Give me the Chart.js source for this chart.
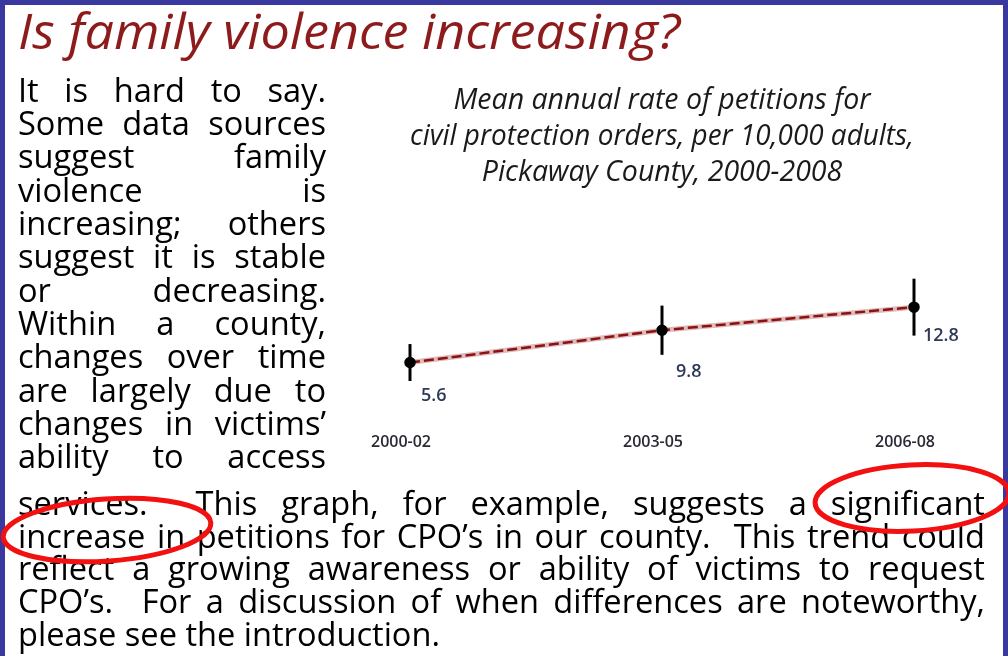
<!DOCTYPE html>
<html>
<head>
<meta charset="utf-8">
<script src="https://cdn.jsdelivr.net/npm/chart.js@4.4.1/dist/chart.umd.min.js"></script>
<style>
  html, body { margin: 0; padding: 0; }
  body { width: 1008px; height: 656px; overflow: hidden; background: #38389f; position: relative; font-family: "Open Sans", sans-serif; }
  #panel { position: absolute; left: 5px; top: 5px; width: 998px; height: 700px; background: #fff; }
  #heading { position: absolute; left: 18px; top: 6px; white-space: nowrap; }
  #heading span { display: inline-block; font-style: italic; font-size: 49px; line-height: 49px; color: #8e1b1b; transform-origin: 0 0; }
  #body { position: absolute; left: 18px; top: 0; transform-origin: 0 0; }
  .ln { position: absolute; left: 0; font-size: 32px; line-height: 33.5px; height: 33.5px; color: #000; }
  .ln.j { text-align: justify; text-align-last: justify; }
  #chart { position: absolute; left: 350px; top: 80px; }
  #marks { position: absolute; left: 0; top: 0; }
</style>
</head>
<body>
<div id="panel"></div>
<div id="heading"><span>Is family violence increasing?</span></div>
<div id="body"></div>
<canvas id="chart" width="630" height="409"></canvas>
<svg id="marks" width="1008" height="656">
  <ellipse cx="107" cy="530" rx="104" ry="31" transform="rotate(-4 107 530)" fill="none" stroke="#f21010" stroke-width="5"/>
  <ellipse cx="912" cy="498" rx="97" ry="33" transform="rotate(-3 912 498)" fill="none" stroke="#f21010" stroke-width="5"/>
</svg>
<script>
// chart data
const periods = ["2000-02", "2003-05", "2006-08"];
const meanRate = [5.6, 9.8, 12.8];
const ciLow = [3.2, 6.6, 9.1];
const ciHigh = [8.0, 13.0, 16.5];
const chartTitle = [
  "Mean annual rate of petitions for",
  "civil protection orders, per 10,000 adults,",
  "Pickaway County, 2000-2008"
];

// slide text, one entry per printed line
const sideLines = [
  "It is hard to say.",
  "Some data sources",
  "suggest family",
  "violence is",
  "increasing; others",
  "suggest it is stable",
  "or decreasing.",
  "Within a county,",
  "changes over time",
  "are largely due to",
  "changes in victims\u2019",
  "ability to access"
];
const wideLines = [
  "services.\u00a0 This graph, for example, suggests a significant",
  "increase in petitions for CPO\u2019s in our county.\u00a0 This trend could",
  "reflect a growing awareness or ability of victims to request",
  "CPO\u2019s.\u00a0 For a discussion of when differences are noteworthy,",
  "please see the introduction."
];

// fit heading to its width in the slide
const hs = document.querySelector("#heading span");
hs.style.transform = "scaleX(" + (662 / hs.getBoundingClientRect().width) + ")";

// measure natural widths to get one horizontal squeeze for the body text
function natural(t) {
  const s = document.createElement("span");
  s.className = "ln";
  s.style.position = "static";
  s.style.whiteSpace = "nowrap";
  s.textContent = t;
  document.body.appendChild(s);
  const w = s.getBoundingClientRect().width;
  s.remove();
  return w;
}
let sq = 422 / natural(wideLines[wideLines.length - 1]);
sideLines.forEach(t => { sq = Math.min(sq, 305 / natural(t)); });
wideLines.slice(0, -1).forEach(t => { sq = Math.min(sq, 965 / natural(t)); });

const body = document.getElementById("body");
body.style.transform = "scaleX(" + sq + ")";
function addLine(t, baseline, w, just) {
  const d = document.createElement("div");
  d.className = just ? "ln j" : "ln";
  d.style.top = (baseline - 29.2) + "px";
  d.style.width = (w / sq) + "px";
  d.textContent = t;
  body.appendChild(d);
}
sideLines.forEach((t, i) => addLine(t, 102 + i * 33.3, 308, true));
wideLines.forEach((t, i) => addLine(t, 515 + i * 32.8, 967, i < wideLines.length - 1));

const errorBars = {
  id: "errorBars",
  afterDatasetsDraw(chart, args, opts) {
    const ctx = chart.ctx;
    const y = chart.scales.y;
    const pts = chart.getDatasetMeta(0).data;
    ctx.save();
    ctx.strokeStyle = "#000";
    ctx.lineWidth = 3;
    pts.forEach((p, i) => {
      ctx.beginPath();
      ctx.moveTo(p.x, y.getPixelForValue(ciLow[i]));
      ctx.lineTo(p.x, y.getPixelForValue(ciHigh[i]));
      ctx.stroke();
    });
    ctx.font = "600 18px 'Open Sans'";
    ctx.fillStyle = "#2e3a58";
    ctx.textAlign = "left";
    ctx.textBaseline = "middle";
    pts.forEach((p, i) => {
      const o = opts.offsets[i];
      ctx.fillText(meanRate[i].toFixed(1), p.x + o[0], p.y + o[1]);
    });
    ctx.restore();
  }
};

new Chart(document.getElementById("chart"), {
  type: "line",
  data: {
    labels: periods,
    datasets: [
      {
        data: meanRate,
        borderColor: "#8c1212",
        borderWidth: 2.5,
        borderDash: [10, 4],
        pointRadius: 4.5,
        pointBackgroundColor: "#000",
        pointBorderColor: "#000",
        tension: 0
      },
      {
        data: meanRate,
        borderColor: "rgba(200,140,140,0.6)",
        borderWidth: 5,
        pointRadius: 0,
        tension: 0
      }
    ]
  },
  options: {
    responsive: false,
    animation: false,
    devicePixelRatio: 1,
    layout: { padding: { left: 60, right: 66, top: 0, bottom: 10.2 } },
    scales: {
      x: {
        offset: false,
        grid: { display: false, drawTicks: false },
        border: { display: false },
        ticks: { padding: 27, labelOffset: -9, color: "#2a2a36", font: { family: "Open Sans", size: 16, weight: "600" } }
      },
      y: { display: false, min: 0, max: 23 }
    },
    plugins: {
      legend: { display: false },
      tooltip: { enabled: false },
      title: {
        display: true,
        text: chartTitle,
        color: "#1a1a1a",
        font: { family: "Open Sans", size: 28.5, style: "italic", weight: "normal", lineHeight: 36 / 28.5 },
        padding: { top: 3, bottom: 37.7 }
      },
      errorBars: { offsets: [[11, 33], [14, 42], [9, 29]] }
    }
  },
  plugins: [errorBars]
});
</script>
</body>
</html>
